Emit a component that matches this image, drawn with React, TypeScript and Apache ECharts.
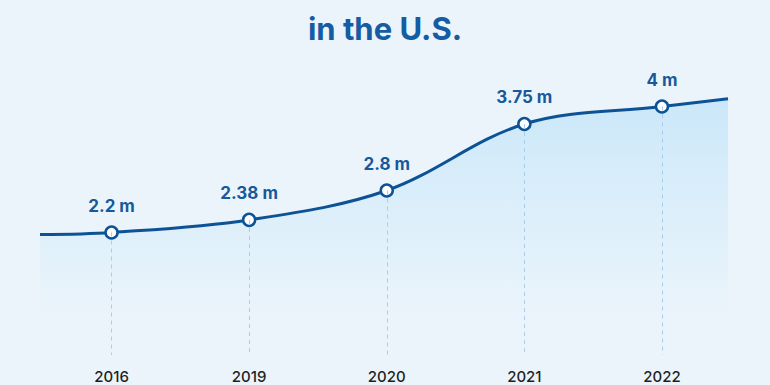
import React, { useEffect, useRef } from "react";
import * as echarts from "echarts";

const years = ["2016", "2019", "2020", "2021", "2022"];
const values = [2.2, 2.38, 2.8, 3.75, 4];
const labels = ["2.2 m", "2.38 m", "2.8 m", "3.75 m", "4 m"];
// where the curve is cut at the left and right chart edges
const leftEdgeValue = 2.17;
const rightEdgeValue = 4.11;

export default function App() {
  const ref = useRef<HTMLDivElement>(null);
  useEffect(() => {
    if (!ref.current) return;
    const chart = echarts.init(ref.current, null, { renderer: "svg" });
    const lineData: any[] = [[-0.52, leftEdgeValue]];
    values.forEach((v, i) => {
      lineData.push({
        value: [i, v],
        symbol: "circle",
        symbolSize: 12,
        label: { show: true, formatter: labels[i] },
      });
    });
    lineData.push([4.48, rightEdgeValue]);
    const yMin = 0.45;
    chart.setOption({
      animation: false,
      backgroundColor: "#ecf4fb",
      title: {
        text: "in the U.S.",
        left: "center",
        top: 8,
        textStyle: {
          color: "#145ca3",
          fontSize: 31,
          fontWeight: 700,
          fontFamily: "Inter",
        },
      },
      grid: { left: 40, right: 42, top: 61, bottom: 30 },
      xAxis: {
        type: "value",
        min: -0.52,
        max: 4.48,
        splitLine: { show: false },
        axisLine: { show: false },
        axisTick: { show: false },
        axisLabel: {
          customValues: [0, 1, 2, 3, 4],
          formatter: (v: number) => years[Math.round(v)] ?? "",
          color: "#1f1f1f",
          fontSize: 15,
          fontFamily: "Inter",
          fontWeight: 500,
          margin: 14,
        },
      },
      yAxis: {
        type: "value",
        min: yMin,
        max: 4.65,
        show: false,
        splitLine: { show: false },
      },
      series: [
        {
          type: "line",
          data: lineData,
          smooth: 0.35,
          showSymbol: true,
          symbol: "none",
          lineStyle: { color: "#0e5296", width: 3 },
          itemStyle: { color: "#ffffff", borderColor: "#0e5296", borderWidth: 2.5 },
          label: {
            show: false,
            position: "top",
            distance: 11,
            color: "#17599a",
            fontSize: 17,
            fontWeight: 700,
            fontFamily: "Inter",
          },
          areaStyle: {
            color: new echarts.graphic.LinearGradient(0, 0, 0, 1, [
              { offset: 0, color: "rgba(185,225,248,0.95)" },
              { offset: 0.6, color: "rgba(215,237,250,0.7)" },
              { offset: 1, color: "rgba(236,244,251,0)" },
            ]),
          },
          markLine: {
            silent: true,
            symbol: ["none", "none"],
            label: { show: false },
            lineStyle: { color: "#a8cdec", type: [4, 4], width: 1 },
            data: values.map((v, i) => [
              { coord: [i, v] },
              { coord: [i, yMin] },
            ]),
          },
          z: 3,
        },
      ],
    });
    return () => chart.dispose();
  }, []);
  return (
    <div
      ref={ref}
      style={{ position: "absolute", left: 0, top: 0, width: 770, height: 385 }}
    />
  );
}
